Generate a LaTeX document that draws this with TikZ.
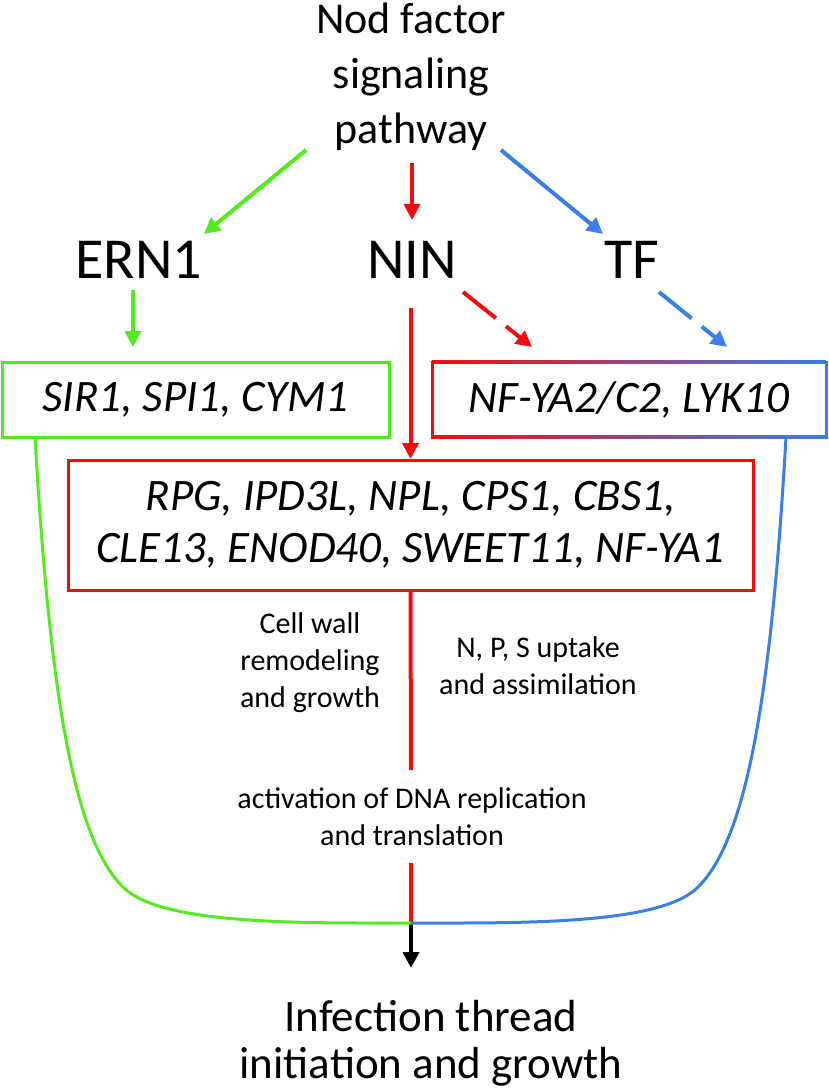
\documentclass[tikz,border=0pt]{standalone}
\usepackage{fontspec}
\setmainfont{Carlito}
\usetikzlibrary{arrows.meta,positioning}

\definecolor{nodgreen}{RGB}{82,236,30}
\definecolor{nodred}{RGB}{242,12,12}
\definecolor{nodblue}{RGB}{58,126,230}
\definecolor{nodpurple}{RGB}{122,40,170}

\begin{document}
\begin{tikzpicture}
  [
  x=1pt, y=-1pt, line width=4pt, >={Triangle[length=16pt,width=16pt]},
  every node/.style={inner sep=0pt, outer sep=0pt},
  titletext/.style={font=\fontsize{44}{55}\selectfont, align=center, anchor=base},
  keytext/.style={font=\fontsize{58}{68}\selectfont, anchor=base},
  smalltext/.style={font=\fontsize{30}{37}\selectfont, align=center, anchor=base},
  genebox/.style={rectangle, line width=3pt, font=\fontsize{45}{52}\selectfont\itshape, align=center},
  curve/.style={line width=3pt},
  ]
  \useasboundingbox (0,0) rectangle (829,1088);

  % texts (anchored at the baseline of the last line)
  \node[titletext] (nod) at (411,143) {Nod factor\\signaling\\pathway};
  \node[keytext] (ern) at (139,278) {ERN1};
  \node[keytext] (nin) at (412,278) {NIN};
  \node[keytext] (tf) at (632,278) {TF};

  % boxes
  \node[genebox, draw=nodgreen, minimum width=387pt, minimum height=75pt] (sir) at (195.5,399.5) {SIR1, SPI1, CYM1};
  \node[genebox, minimum width=394pt, minimum height=75pt] (nfy) at (629,399.5) {NF-YA2/C2, LYK10};
  \node[genebox, draw=nodred, minimum width=685pt, minimum height=130pt] (rpg) at (410.5,525)
    {RPG, IPD3L, NPL, CPS1, CBS1,\\CLE13, ENOD40, SWEET11, NF-YA1};

  % gradient frame of the NF-YA box
  \shade[left color=nodred, middle color=nodpurple, right color=nodblue]
    ([yshift=1.5pt]nfy.north west) rectangle ([yshift=-1.5pt]nfy.north east);
  \shade[left color=nodred, middle color=nodpurple, right color=nodblue]
    ([yshift=1.5pt]nfy.south west) rectangle ([yshift=-1.5pt]nfy.south east);
  \draw[curve, nodred] ([yshift=1.5pt]nfy.north west) -- ([yshift=-1.5pt]nfy.south west);
  \draw[curve, nodblue] ([yshift=1.5pt]nfy.north east) -- ([yshift=-1.5pt]nfy.south east);

  \node[smalltext] (wall) at (310,707) {Cell wall\\remodeling\\and growth};
  \node[smalltext] (uptake) at (538,694) {N, P, S uptake\\and assimilation};
  \node[smalltext] (dna) at (412,845) {activation of DNA replication\\and translation};
  \node[titletext, font=\fontsize{45}{47}\selectfont] (thread) at (431,1078) {Infection thread\\initiation and growth};

  % arrow ends
  \coordinate (gtop) at (306,150);
  \coordinate (gtip) at (204,234);
  \coordinate (rtop) at (412,163);
  \coordinate (rtip) at (412,220);
  \coordinate (btop) at (501,150);
  \coordinate (btip) at (603,234);
  \coordinate (ndash) at (463,292);
  \coordinate (ndtip) at (532,347);
  \coordinate (tdash) at (659,292);
  \coordinate (tdtip) at (727,347);
  \coordinate (gap) at (411,770);
  \coordinate (resume) at (411,863);
  \coordinate (join) at (411,923);
  \coordinate (ittip) at (411,968);

  % arrows
  \draw[->, nodgreen] (gtop) -- (gtip);
  \draw[->, nodred] (rtop) -- (rtip);
  \draw[->, nodblue] (btop) -- (btip);
  \draw[->, nodgreen, shorten <=12pt, shorten >=15pt] ([xshift=-6pt]ern.south) -- ([xshift=-6pt]ern.south |- sir.north);
  \draw[->, nodred, shorten <=30pt, shorten >=1pt] (nin.south -| rpg.north) -- (rpg.north);
  \draw[->, nodred, dash pattern=on 42pt off 13pt] (ndash) -- (ndtip);
  \draw[->, nodblue, dash pattern=on 42pt off 13pt] (tdash) -- (tdtip);
  \draw[nodred] (rpg.south) -- (gap);
  \draw[nodred] (resume) -- (join);
  \draw[->, line width=4.5pt] (join) -- (ittip);

  % side curves
  \draw[curve, nodgreen] ([xshift=33pt]sir.south west) .. controls (50,700) and (75,840) .. (123,887)
    .. controls (160,925) and (300,923) .. (join);
  \draw[curve, nodblue] ([xshift=-40pt]nfy.south east) .. controls (771,700) and (746,840) .. (698,887)
    .. controls (661,925) and (521,923) .. (join);
\end{tikzpicture}
\end{document}
